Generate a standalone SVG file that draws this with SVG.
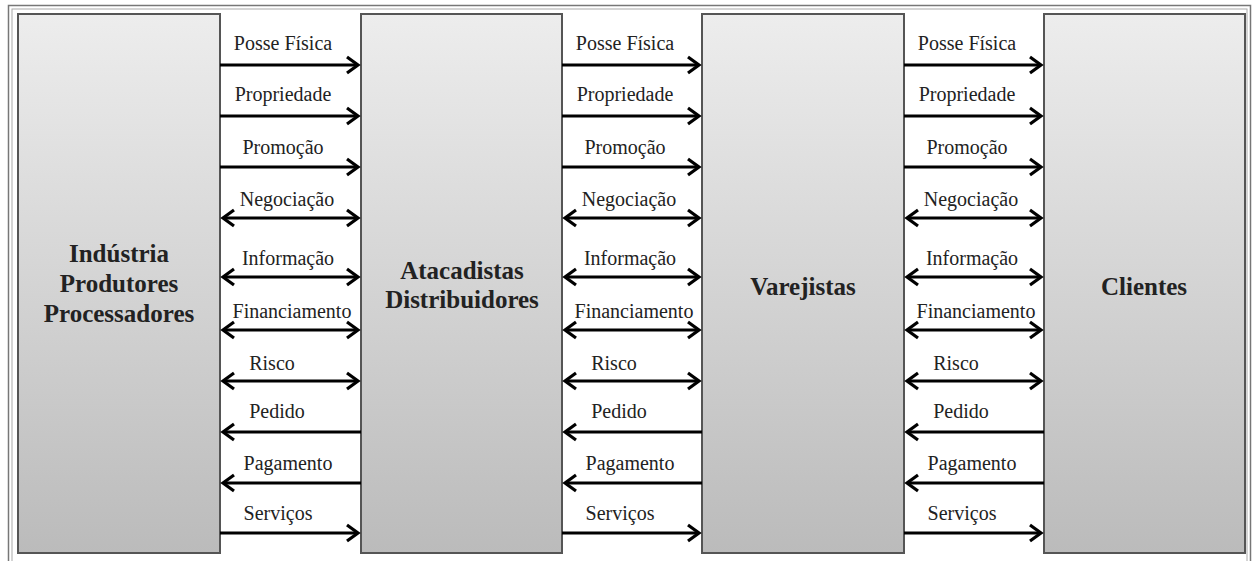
<svg xmlns="http://www.w3.org/2000/svg" width="1255" height="561" viewBox="0 0 1255 561">
<style>
.box{stroke:#555;stroke-width:2;fill:url(#g)}
.lbl{font-family:"Liberation Serif","DejaVu Serif","Times New Roman",serif;font-size:20px;fill:#222;text-anchor:middle}
.nl{font-family:"Liberation Serif","DejaVu Serif","Times New Roman",serif;font-size:25px;font-weight:bold;fill:#222;text-anchor:middle}
.ar{stroke:#000;stroke-width:3;fill:none}
</style>
<defs>
<linearGradient id="g" x1="0" y1="0" x2="0" y2="1">
<stop offset="0" stop-color="#ededed"/>
<stop offset="1" stop-color="#bbbbbb"/>
</linearGradient>
<marker id="h" markerUnits="userSpaceOnUse" markerWidth="20" markerHeight="20" refX="0" refY="0" viewBox="-14 -10 16 20" orient="auto-start-reverse" overflow="visible">
<path d="M-11,-8 L0,0 L-11,8" stroke="#000" stroke-width="3.2" fill="none"/>
</marker>
</defs>
<rect width="1255" height="561" fill="#fff"/>
<g id="frame">
<rect x="8.5" y="5.5" width="1242" height="570" fill="none" stroke="#777" stroke-width="1.5"/>
<rect x="12" y="9" width="1235" height="560" fill="none" stroke="#aaa" stroke-width="1"/>
</g>
<g id="n1"><rect class="box" x="18" y="14" width="202" height="539"/>
<text class="nl" x="119" y="262">Indústria</text><text class="nl" x="119" y="292">Produtores</text><text class="nl" x="119" y="322">Processadores</text></g>
<g id="n2"><rect class="box" x="361" y="14" width="201" height="539"/>
<text class="nl" x="462" y="279">Atacadistas</text><text class="nl" x="462" y="308">Distribuidores</text></g>
<g id="n3"><rect class="box" x="702" y="14" width="202" height="539"/>
<text class="nl" x="803" y="295">Varejistas</text></g>
<g id="n4"><rect class="box" x="1044" y="14" width="201" height="539"/>
<text class="nl" x="1144" y="295">Clientes</text></g>
<g id="connectors">
<g id="c1">
<path class="ar" d="M220,65H358" marker-end="url(#h)"/>
<path class="ar" d="M220,116H358" marker-end="url(#h)"/>
<path class="ar" d="M220,167H358" marker-end="url(#h)"/>
<path class="ar" d="M223,218H358" marker-start="url(#h)" marker-end="url(#h)"/>
<path class="ar" d="M223,277H358" marker-start="url(#h)" marker-end="url(#h)"/>
<path class="ar" d="M223,330H358" marker-start="url(#h)" marker-end="url(#h)"/>
<path class="ar" d="M223,381H358" marker-start="url(#h)" marker-end="url(#h)"/>
<path class="ar" d="M361,432H223" marker-end="url(#h)"/>
<path class="ar" d="M361,483H223" marker-end="url(#h)"/>
<path class="ar" d="M220,533H358" marker-end="url(#h)"/>
<text class="lbl" x="283" y="50">Posse Física</text>
<text class="lbl" x="283" y="101">Propriedade</text>
<text class="lbl" x="283" y="154">Promoção</text>
<text class="lbl" x="287" y="206">Negociação</text>
<text class="lbl" x="288" y="265">Informação</text>
<text class="lbl" x="292" y="318">Financiamento</text>
<text class="lbl" x="272" y="370">Risco</text>
<text class="lbl" x="277" y="418">Pedido</text>
<text class="lbl" x="288" y="470">Pagamento</text>
<text class="lbl" x="278" y="520">Serviços</text>
</g>
<g id="c2">
<path class="ar" d="M562,65H699" marker-end="url(#h)"/>
<path class="ar" d="M562,116H699" marker-end="url(#h)"/>
<path class="ar" d="M562,167H699" marker-end="url(#h)"/>
<path class="ar" d="M565,218H699" marker-start="url(#h)" marker-end="url(#h)"/>
<path class="ar" d="M565,277H699" marker-start="url(#h)" marker-end="url(#h)"/>
<path class="ar" d="M565,330H699" marker-start="url(#h)" marker-end="url(#h)"/>
<path class="ar" d="M565,381H699" marker-start="url(#h)" marker-end="url(#h)"/>
<path class="ar" d="M702,432H565" marker-end="url(#h)"/>
<path class="ar" d="M702,483H565" marker-end="url(#h)"/>
<path class="ar" d="M562,533H699" marker-end="url(#h)"/>
<text class="lbl" x="625" y="50">Posse Física</text>
<text class="lbl" x="625" y="101">Propriedade</text>
<text class="lbl" x="625" y="154">Promoção</text>
<text class="lbl" x="629" y="206">Negociação</text>
<text class="lbl" x="630" y="265">Informação</text>
<text class="lbl" x="634" y="318">Financiamento</text>
<text class="lbl" x="614" y="370">Risco</text>
<text class="lbl" x="619" y="418">Pedido</text>
<text class="lbl" x="630" y="470">Pagamento</text>
<text class="lbl" x="620" y="520">Serviços</text>
</g>
<g id="c3">
<path class="ar" d="M904,65H1041" marker-end="url(#h)"/>
<path class="ar" d="M904,116H1041" marker-end="url(#h)"/>
<path class="ar" d="M904,167H1041" marker-end="url(#h)"/>
<path class="ar" d="M907,218H1041" marker-start="url(#h)" marker-end="url(#h)"/>
<path class="ar" d="M907,277H1041" marker-start="url(#h)" marker-end="url(#h)"/>
<path class="ar" d="M907,330H1041" marker-start="url(#h)" marker-end="url(#h)"/>
<path class="ar" d="M907,381H1041" marker-start="url(#h)" marker-end="url(#h)"/>
<path class="ar" d="M1044,432H907" marker-end="url(#h)"/>
<path class="ar" d="M1044,483H907" marker-end="url(#h)"/>
<path class="ar" d="M904,533H1041" marker-end="url(#h)"/>
<text class="lbl" x="967" y="50">Posse Física</text>
<text class="lbl" x="967" y="101">Propriedade</text>
<text class="lbl" x="967" y="154">Promoção</text>
<text class="lbl" x="971" y="206">Negociação</text>
<text class="lbl" x="972" y="265">Informação</text>
<text class="lbl" x="976" y="318">Financiamento</text>
<text class="lbl" x="956" y="370">Risco</text>
<text class="lbl" x="961" y="418">Pedido</text>
<text class="lbl" x="972" y="470">Pagamento</text>
<text class="lbl" x="962" y="520">Serviços</text>
</g>
</g>
</svg>
